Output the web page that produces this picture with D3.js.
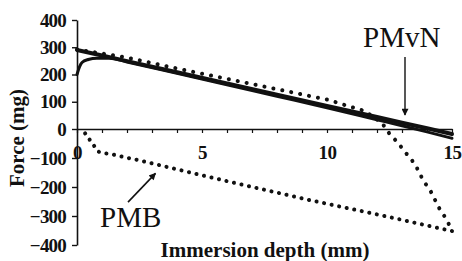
<!DOCTYPE html>
<html><head><meta charset="utf-8">
<script src="https://cdn.jsdelivr.net/npm/d3@7"></script>
<style>
html,body{margin:0;padding:0;background:#fff;}
svg{display:block;}
</style>
</head><body>
<svg id="chart" width="462" height="261"></svg>
<script>
// ---- data ----
const xTicks = [0, 5, 10, 15];
const yTicks = [400, 300, 200, 100, 0, -100, -200, -300, -400];

// PMvN (solid) – straight trace
const pmvnDepthA = [0, 1, 2, 4, 6, 8, 10, 12, 13, 14, 15];
const pmvnForceA = [290, 270, 249, 208, 167, 126, 85, 44, 23, 3, -17];
// PMvN (solid) – second trace with initial hook
const pmvnDepthB = [0, 0.1, 0.2, 0.45, 0.8, 1.3, 2, 4, 6, 8, 10, 12, 13, 14, 15];
const pmvnForceB = [200, 228, 244, 255, 260, 260, 246, 204, 162, 120, 78, 34, 12, -10, -32];

// PMB (dotted) – advancing
const pmbAdvDepth = [0, 2, 4, 6, 8, 10, 11.5, 12.2, 12.48, 12.84, 13.16, 13.52, 13.84, 14.16, 14.48, 14.8, 15];
const pmbAdvForce = [292, 262, 222, 184, 146, 108, 66, 22, -14, -48, -83, -121, -176, -217, -272, -314, -352];
// PMB (dotted) – receding
const pmbRecDepth = [15, 12.3, 9.3, 6, 2.92, 2.45, 1.92, 1.65, 1.35, 1.1, 0.85, 0.59, 0.29];
const pmbRecForce = [-352, -300, -245, -180, -117, -107, -98, -92, -86, -84, -78, -47, -11];

// ---- chart ----
const svg = d3.select("#chart");
const x = d3.scaleLinear().domain([0, 15]).range([77, 452]);
const y = d3.scaleLinear().domain([400, 0, -400]).range([20, 129, 245]);
const ink = "#111";

// markers
const defs = svg.append("defs");
defs.append("marker").attr("id", "ah").attr("viewBox", "0 0 10 10")
  .attr("refX", 9).attr("refY", 5).attr("markerWidth", 9).attr("markerHeight", 7)
  .attr("markerUnits", "userSpaceOnUse").attr("orient", "auto")
  .append("path").attr("d", "M0,0 L10,5 L0,10 Z").attr("fill", ink);

// y axis
const yAxis = d3.axisLeft(y).tickValues(yTicks).tickSize(5).tickSizeOuter(0).tickPadding(8);
const gy = svg.append("g").attr("transform", `translate(${x(0)},0)`).call(yAxis);
gy.select(".domain").attr("stroke", ink).attr("stroke-width", 1.6);
gy.selectAll(".tick line").attr("stroke", ink).attr("stroke-width", 1.4);
gy.selectAll(".tick text").attr("font-family", "Liberation Serif").attr("font-weight", "bold")
  .attr("font-size", 19).attr("fill", ink).attr("dx", 2).attr("letter-spacing", -0.8);

// x axis
const xAxis = d3.axisBottom(x).tickValues(d3.range(0, 16, 1)).tickSize(4).tickSizeOuter(0)
  .tickFormat(d => xTicks.includes(d) ? d : "").tickPadding(13);
const gx = svg.append("g").attr("transform", `translate(0,${y(0)})`).call(xAxis);
gx.select(".domain").attr("stroke", ink).attr("stroke-width", 1.6);
gx.selectAll(".tick line").attr("stroke", ink).attr("stroke-width", 1.2);
gx.selectAll(".tick text").attr("font-family", "Liberation Serif").attr("font-weight", "bold")
  .attr("font-size", 19).attr("fill", ink).attr("letter-spacing", -0.5);

// lines
const line = d3.line().x(d => x(d[0])).y(d => y(d[1]));
const lineCurve = d3.line().x(d => x(d[0])).y(d => y(d[1])).curve(d3.curveMonotoneX);

svg.append("path").datum(d3.zip(pmvnDepthA, pmvnForceA)).attr("d", line)
  .attr("fill", "none").attr("stroke", ink).attr("stroke-width", 4).attr("stroke-linecap", "round");
svg.append("path").datum(d3.zip(pmvnDepthB, pmvnForceB)).attr("d", lineCurve)
  .attr("fill", "none").attr("stroke", ink).attr("stroke-width", 3).attr("stroke-linecap", "round");

svg.append("path").datum(d3.zip(pmbAdvDepth, pmbAdvForce)).attr("d", line)
  .attr("fill", "none").attr("stroke", ink).attr("stroke-width", 4)
  .attr("stroke-linecap", "round").attr("stroke-dasharray", "0.1 9");
svg.append("path").datum(d3.zip(pmbRecDepth, pmbRecForce)).attr("d", line)
  .attr("fill", "none").attr("stroke", ink).attr("stroke-width", 4)
  .attr("stroke-linecap", "round").attr("stroke-dasharray", "0.1 7.6");

// annotations
svg.append("text").attr("x", 363).attr("y", 47).text("PMvN")
  .attr("font-family", "Liberation Serif").attr("font-size", 29).attr("fill", ink);
svg.append("line").attr("x1", x(13.12)).attr("y1", y(264)).attr("x2", x(13.12)).attr("y2", y(51))
  .attr("stroke", ink).attr("stroke-width", 1.4).attr("marker-end", "url(#ah)");

svg.append("text").attr("x", 100).attr("y", 227).text("PMB")
  .attr("font-family", "Liberation Serif").attr("font-size", 29).attr("fill", ink);
svg.append("line").attr("x1", x(2.04)).attr("y1", y(-252)).attr("x2", x(3.14)).attr("y2", y(-153))
  .attr("stroke", ink).attr("stroke-width", 1.6).attr("marker-end", "url(#ah)");

// axis titles
svg.append("text").attr("x", 265).attr("y", 257).attr("text-anchor", "middle")
  .text("Immersion depth (mm)")
  .attr("font-family", "Liberation Serif").attr("font-weight", "bold").attr("font-size", 21).attr("fill", ink);
svg.append("text").attr("transform", "translate(24,138) rotate(-90)").attr("text-anchor", "middle")
  .text("Force (mg)")
  .attr("font-family", "Liberation Serif").attr("font-weight", "bold").attr("font-size", 21).attr("fill", ink);
</script>
</body></html>
